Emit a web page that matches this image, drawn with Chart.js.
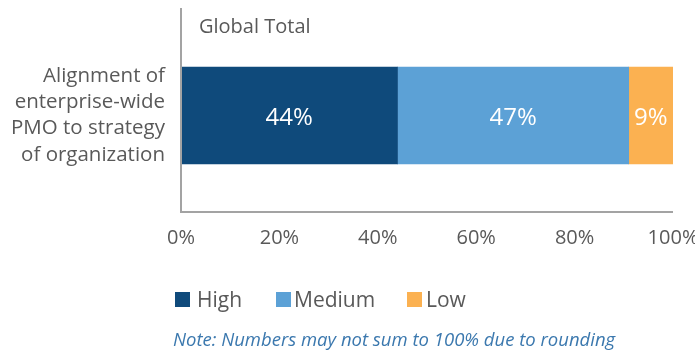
<!DOCTYPE html>
<html>
<head>
<meta charset="utf-8">
<script src="https://cdn.jsdelivr.net/npm/chart.js@4.4.1/dist/chart.umd.min.js"></script>
<style>
  html, body { margin: 0; padding: 0; background: #ffffff; }
  #wrap { width: 695px; height: 352px; position: relative; }
</style>
</head>
<body>
<div id="wrap"><canvas id="chart" width="695" height="352"></canvas></div>
<script>
// Survey question shown on the single bar
const categories = [["Alignment of", "enterprise-wide", "PMO to strategy", "of organization"]];
// Share of respondents per rating (percent)
const highValues = [44];
const mediumValues = [47];
const lowValues = [9];
const seriesNames = ["High", "Medium", "Low"];
const seriesColors = ["#0f4a7b", "#5ca1d6", "#fbb151"];
const xTicks = [0, 20, 40, 60, 80, 100];

const FONT = "'Open Sans', 'Liberation Sans', sans-serif";
const TEXT = "#595959";
const AXIS = "#a3a3a3";

// Axis lines, panel title, value labels, legend and footnote
const decorations = {
  id: "decorations",
  afterDatasetsDraw(chart) {
    const { ctx, chartArea } = chart;
    ctx.save();
    // axis lines
    ctx.strokeStyle = AXIS;
    ctx.lineWidth = 2;
    ctx.beginPath();
    ctx.moveTo(chartArea.left, 8);
    ctx.lineTo(chartArea.left, chartArea.bottom);
    ctx.lineTo(chartArea.right, chartArea.bottom);
    ctx.stroke();

    // panel title
    ctx.fillStyle = TEXT;
    ctx.font = "20px " + FONT;
    ctx.textAlign = "left";
    ctx.textBaseline = "middle";
    ctx.fillText("Global Total", chartArea.left + 18, 27);

    // values inside each segment
    ctx.fillStyle = "#ffffff";
    ctx.font = "24px " + FONT;
    ctx.textAlign = "center";
    chart.data.datasets.forEach((ds, i) => {
      chart.getDatasetMeta(i).data.forEach((bar, j) => {
        const p = bar.getProps(["x", "y", "base"], true);
        ctx.fillText(ds.data[j] + "%", (p.x + p.base) / 2, p.y + 3);
      });
    });

    // legend
    const boxX = [175, 276, 407];
    const textX = [197, 294, 426];
    ctx.font = "21px " + FONT;
    ctx.textAlign = "left";
    chart.data.datasets.forEach((ds, i) => {
      ctx.fillStyle = ds.backgroundColor;
      ctx.fillRect(boxX[i], 292, 15, 15);
      ctx.fillStyle = TEXT;
      ctx.fillText(ds.label, textX[i], 301);
    });

    // footnote
    ctx.fillStyle = "#3b78ae";
    ctx.font = "italic 18.5px " + FONT;
    ctx.fillText("Note: Numbers may not sum to 100% due to rounding", 173, 341);
    ctx.restore();
  }
};

new Chart(document.getElementById("chart"), {
  type: "bar",
  data: {
    labels: categories,
    datasets: [
      { label: seriesNames[0], data: highValues, backgroundColor: seriesColors[0] },
      { label: seriesNames[1], data: mediumValues, backgroundColor: seriesColors[1] },
      { label: seriesNames[2], data: lowValues, backgroundColor: seriesColors[2] }
    ]
  },
  options: {
    indexAxis: "y",
    responsive: false,
    animation: false,
    layout: { padding: { top: 19, right: 22, bottom: 0, left: 0 } },
    datasets: { bar: { barThickness: 97 } },
    plugins: {
      legend: { display: false },
      tooltip: { enabled: false }
    },
    scales: {
      x: {
        stacked: true,
        min: 0,
        max: 100,
        afterBuildTicks(scale) { scale.ticks = xTicks.map(v => ({ value: v })); },
        afterFit(scale) {
          scale.height = 140;
          scale.paddingLeft = 0;
          scale.paddingRight = 0;
        },
        grid: { display: false, drawTicks: false },
        border: { display: false },
        ticks: {
          color: TEXT,
          font: { family: FONT, size: 20 },
          padding: 14,
          callback: v => v + "%"
        }
      },
      y: {
        stacked: true,
        afterFit(scale) {
          scale.width = 181;
          scale.paddingTop = 0;
          scale.paddingBottom = 0;
        },
        grid: { display: false, drawTicks: false },
        border: { display: false },
        ticks: {
          color: TEXT,
          font: { family: FONT, size: 20.5, lineHeight: 1.28 },
          padding: 16
        }
      }
    }
  },
  plugins: [decorations]
});
</script>
</body>
</html>
